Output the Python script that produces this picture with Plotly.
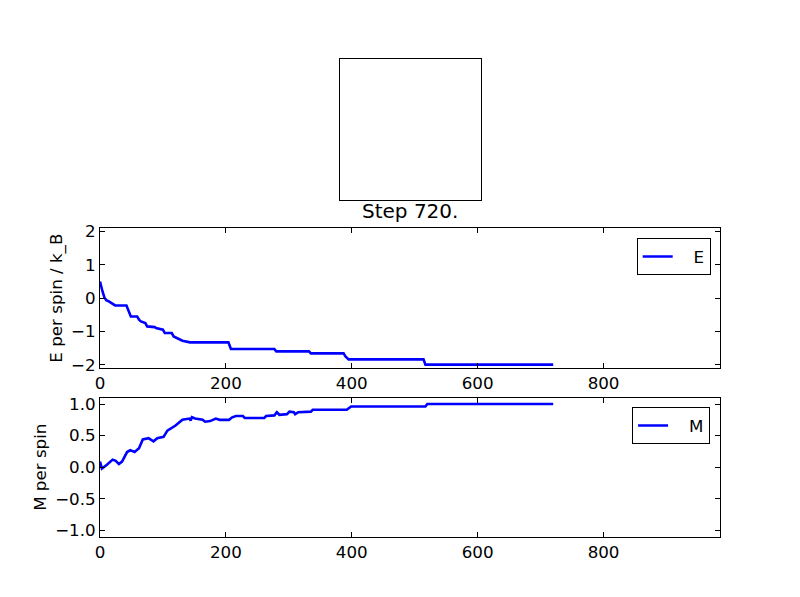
import plotly.graph_objects as go

# Energy per spin vs Monte Carlo step
e_steps = [0, 2, 4, 7, 10, 14, 19, 24, 42, 46, 49, 59, 62, 65, 72, 75, 87, 89,
           100, 103, 114, 117, 122, 127, 131, 143, 204, 208, 277, 280, 332, 335,
           387, 390, 395, 514, 517, 720]
e_values = [0.5, 0.33, 0.2, 0.02, -0.06, -0.1, -0.15, -0.22, -0.22, -0.4, -0.55,
            -0.55, -0.65, -0.7, -0.75, -0.85, -0.87, -0.9, -0.95, -1.05, -1.05,
            -1.15, -1.2, -1.25, -1.28, -1.33, -1.33, -1.53, -1.53, -1.6, -1.6,
            -1.66, -1.66, -1.75, -1.84, -1.84, -2.0, -2.0]

# Magnetisation per spin vs Monte Carlo step
m_steps = [0, 3, 11, 20, 25, 30, 35, 43, 48, 55, 62, 68, 77, 85, 91, 101, 107,
           120, 131, 142, 144, 146, 151, 163, 167, 175, 184, 190, 205, 210, 216,
           227, 230, 261, 264, 277, 281, 285, 297, 301, 308, 310, 315, 335, 338,
           392, 399, 517, 520, 720]
m_values = [0.09, -0.02, 0.04, 0.12, 0.1, 0.05, 0.09, 0.24, 0.27, 0.24, 0.3,
            0.44, 0.46, 0.41, 0.46, 0.48, 0.58, 0.66, 0.75, 0.77, 0.74, 0.79,
            0.77, 0.75, 0.72, 0.73, 0.77, 0.75, 0.75, 0.79, 0.81, 0.81, 0.78,
            0.78, 0.81, 0.82, 0.87, 0.83, 0.84, 0.88, 0.87, 0.84, 0.87, 0.88,
            0.91, 0.91, 0.96, 0.96, 1.0, 1.0]

# final lattice: every spin aligned (uniform white image)
lattice = [[1] * 20 for _ in range(20)]

title_text = "Step 720."
font_family = "DejaVu Sans"
pad = "\u00a0\u00a0\u00a0"  # gap between legend line and label, as in matplotlib

fig = go.Figure()

fig.add_trace(go.Heatmap(
    z=lattice, xaxis="x3", yaxis="y3",
    colorscale=[[0, "white"], [1, "white"]], showscale=False, hoverinfo="skip",
))

fig.add_trace(go.Scatter(
    x=e_steps, y=e_values, mode="lines", name=pad + "E",
    line=dict(color="#0000ff", width=2.6),
    xaxis="x", yaxis="y", legend="legend",
))

fig.add_trace(go.Scatter(
    x=m_steps, y=m_values, mode="lines", name=pad + "M",
    line=dict(color="#0000ff", width=2.6),
    xaxis="x2", yaxis="y2", legend="legend2",
))

axis_common = dict(
    showline=True, linecolor="black", linewidth=1, mirror="allticks",
    ticks="inside", ticklen=5, tickcolor="black", showgrid=False,
    zeroline=False, automargin=False,
    tickfont=dict(family=font_family, size=16.7, color="black"),
)

frame_only = dict(
    showticklabels=False, ticks="", showline=True, linecolor="black",
    mirror=True, showgrid=False, zeroline=False, automargin=False,
)

legend_common = dict(
    bgcolor="white", bordercolor="black", borderwidth=1,
    font=dict(family=font_family, size=16.7, color="black"),
    xanchor="right", yanchor="top", itemwidth=30,
)

fig.update_layout(
    width=800, height=597,
    showlegend=True,
    paper_bgcolor="white", plot_bgcolor="white",
    margin=dict(l=100, r=80, t=0, b=0),
    font=dict(family=font_family, color="black"),
    xaxis=dict(domain=[0, 1], range=[0, 985], tickvals=[0, 200, 400, 600, 800],
               anchor="y", **axis_common),
    yaxis=dict(domain=[0.3836, 0.6176], range=[-2.1, 2.1], dtick=1,
               anchor="x", title=dict(text="E per spin / k_B", standoff=4,
                                      font=dict(size=16.7)),
               **axis_common),
    xaxis2=dict(domain=[0, 1], range=[0, 985], tickvals=[0, 200, 400, 600, 800],
                anchor="y2", **axis_common),
    yaxis2=dict(domain=[0.101, 0.3338], range=[-1.1, 1.1], dtick=0.5,
                tickformat=".1f", anchor="x2",
                title=dict(text="M per spin", standoff=4, font=dict(size=16.7)),
                **axis_common),
    xaxis3=dict(domain=[0.387, 0.614], anchor="y3", **frame_only),
    yaxis3=dict(domain=[0.665, 0.901], anchor="x3", **frame_only),
    legend=dict(x=0.985, y=0.601, **legend_common),
    legend2=dict(x=0.984, y=0.318, **legend_common),
    annotations=[dict(
        text=title_text, x=0.5, y=0.623, xref="paper", yref="paper",
        xanchor="center", yanchor="bottom", showarrow=False,
        font=dict(family=font_family, size=20, color="black"),
    )],
)

fig.write_html("out.html", config={"displayModeBar": False},
               post_script="document.body.style.margin='0';")
